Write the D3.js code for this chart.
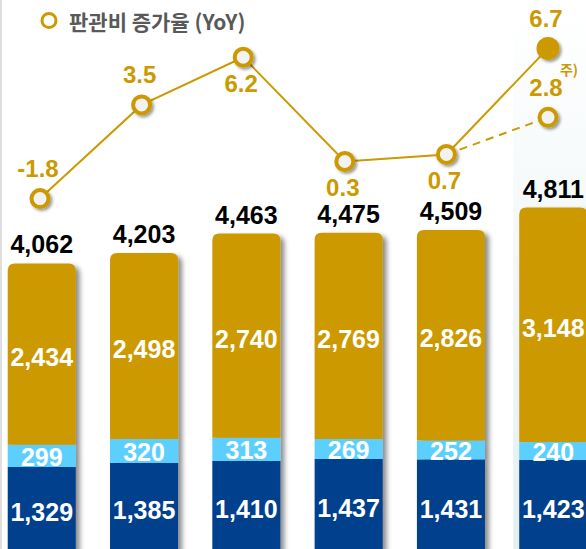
<!DOCTYPE html>
<html>
<head>
<meta charset="utf-8">
<script src="https://cdn.jsdelivr.net/npm/d3@7"></script>
<style>
  body { margin: 0; background: #fff; }
  svg { display: block; }
</style>
</head>
<body>
<svg id="svg"></svg>
<script>
let width = 586, height = 549;

// 데이터 (단위: 억원 / %)
let periods = ["p1", "p2", "p3", "p4", "p5", "p6"];
let navyVals = [1329, 1385, 1410, 1437, 1431, 1423];
let skyVals = [299, 320, 313, 269, 252, 240];
let goldVals = [2434, 2498, 2740, 2769, 2826, 3148];
let totals = [4062, 4203, 4463, 4475, 4509, 4811];
let yoy = [-1.8, 3.5, 6.2, 0.3, 0.7, 6.7];
let yoyAdj = 2.8; // 주) 조정 수치
let yoyLabelSide = ["up", "up", "down", "down", "down", "up"];
let legendText = "판관비 증가율 (YoY)";

let gold = "#CC9900", sky = "#5BCFFF", navy = "#003F8C";

let svg = d3.select("#svg").attr("width", width).attr("height", height);
let defs = svg.append("defs");

let barShadow = defs.append("filter").attr("id", "barShadow")
    .attr("x", "-20%").attr("y", "-20%").attr("width", "150%").attr("height", "150%");
barShadow.append("feDropShadow")
    .attr("dx", 4).attr("dy", 3).attr("stdDeviation", 2.5)
    .attr("flood-color", "#000").attr("flood-opacity", 0.45);

let dotShadow = defs.append("filter").attr("id", "dotShadow")
    .attr("x", "-50%").attr("y", "-50%").attr("width", "200%").attr("height", "200%");
dotShadow.append("feDropShadow")
    .attr("dx", 2).attr("dy", 2).attr("stdDeviation", 1.5)
    .attr("flood-color", "#000").attr("flood-opacity", 0.4);

let panelGrad = defs.append("linearGradient").attr("id", "panelGrad")
    .attr("x1", 0).attr("y1", 0).attr("x2", 0).attr("y2", 1);
panelGrad.append("stop").attr("offset", "0%").attr("stop-color", "#ffffff");
panelGrad.append("stop").attr("offset", "100%").attr("stop-color", "#e4eff2");

// scales
let xScale = d3.scaleBand().domain(periods).range([-9.4, 604.4])
    .paddingInner(0.335).paddingOuter(0.1675);
let yScale = d3.scaleLinear().domain([0, 4811]).range([566, 207.6]);
let xLine = d3.scalePoint().domain(periods).range([40, 548]);
let yLine = d3.scaleLinear().domain([-1.8, 6.7]).range([198.6, 48.4]);

let fmtPct = v => d3.format(".1f")(v).replace("\u2212", "-");

// 마지막 기간 강조 배경
svg.append("rect")
    .attr("x", xScale(periods[5]) - 6).attr("y", 0)
    .attr("width", width - xScale(periods[5]) + 6).attr("height", height)
    .attr("fill", "url(#panelGrad)");

// 왼쪽 경계선
svg.append("line")
    .attr("x1", 1).attr("x2", 1).attr("y1", 0).attr("y2", height)
    .attr("stroke", "#d4d4d4").attr("stroke-width", 1.5);

let bars = periods.map((p, i) => ({
    p: p, navy: navyVals[i], sky: skyVals[i], gold: goldVals[i], total: totals[i]
}));

let bw = xScale.bandwidth(), r = 7;

let barG = svg.append("g").selectAll("g")
    .data(bars)
    .join("g")
    .attr("filter", "url(#barShadow)");

barG.append("rect")
    .attr("x", d => xScale(d.p)).attr("width", bw)
    .attr("y", d => yScale(d.navy))
    .attr("height", d => yScale(0) - yScale(d.navy))
    .attr("fill", navy);

barG.append("rect")
    .attr("x", d => xScale(d.p)).attr("width", bw)
    .attr("y", d => yScale(d.navy + d.sky))
    .attr("height", d => yScale(d.navy) - yScale(d.navy + d.sky))
    .attr("fill", sky);

barG.append("path")
    .attr("fill", gold)
    .attr("d", d => {
        let x0 = xScale(d.p), x1 = x0 + bw;
        let yb = yScale(d.navy + d.sky), yt = yScale(d.navy + d.sky + d.gold);
        return `M${x0},${yb}V${yt + r}Q${x0},${yt} ${x0 + r},${yt}H${x1 - r}Q${x1},${yt} ${x1},${yt + r}V${yb}Z`;
    });

let labelFont = "'Liberation Sans', Arial, sans-serif";

let labels = svg.append("g")
    .attr("font-family", labelFont).attr("font-weight", "bold")
    .attr("font-size", 25).attr("text-anchor", "middle");

// 세그먼트 라벨
bars.forEach(d => {
    let cx = xScale(d.p) + bw / 2;
    labels.append("text").attr("x", cx).attr("y", (yScale(d.navy) + yScale(0)) / 2 - 4)
        .attr("dominant-baseline", "central").attr("fill", "#fff")
        .text(d3.format(",")(d.navy));
    labels.append("text").attr("x", cx).attr("y", (yScale(d.navy) + yScale(d.navy + d.sky)) / 2 + 1)
        .attr("dominant-baseline", "central").attr("fill", "#fff")
        .text(d3.format(",")(d.sky));
    labels.append("text").attr("x", cx).attr("y", (yScale(d.navy + d.sky) + yScale(d.total)) / 2 + 3)
        .attr("dominant-baseline", "central").attr("fill", "#fff")
        .text(d3.format(",")(d.gold));
    labels.append("text").attr("x", cx).attr("y", yScale(d.total) - 10)
        .attr("fill", "#000")
        .text(d3.format(",")(d.total));
});

// 증가율 라인
let pts = periods.map((p, i) => ({ p: p, v: yoy[i], side: yoyLabelSide[i] }));
let adjPt = { p: periods[5], v: yoyAdj, side: "up" };

let lineG = svg.append("g");
lineG.append("path")
    .datum(pts)
    .attr("fill", "none").attr("stroke", gold).attr("stroke-width", 2)
    .attr("d", d3.line().x(d => xLine(d.p)).y(d => yLine(d.v)));
lineG.append("path")
    .datum([pts[4], adjPt])
    .attr("fill", "none").attr("stroke", gold).attr("stroke-width", 2)
    .attr("stroke-dasharray", "8,6")
    .attr("d", d3.line().x(d => xLine(d.p)).y(d => yLine(d.v)));

let openPts = pts.slice(0, 5).concat([adjPt]);
lineG.selectAll("circle.open")
    .data(openPts)
    .join("circle")
    .attr("class", "open")
    .attr("cx", d => xLine(d.p)).attr("cy", d => yLine(d.v))
    .attr("r", 8.5)
    .attr("fill", "#f2f2f2").attr("stroke", gold).attr("stroke-width", 4)
    .attr("filter", "url(#dotShadow)");
lineG.append("circle")
    .attr("cx", xLine(pts[5].p)).attr("cy", yLine(pts[5].v))
    .attr("r", 11.5).attr("fill", gold)
    .attr("filter", "url(#dotShadow)");

lineG.selectAll("text.yoy")
    .data(pts.concat([adjPt]))
    .join("text")
    .attr("class", "yoy")
    .attr("x", d => xLine(d.p) - 2)
    .attr("y", d => yLine(d.v) + (d.side === "up" ? -30 : 26))
    .attr("dominant-baseline", "central")
    .attr("text-anchor", "middle")
    .attr("font-family", labelFont).attr("font-weight", "bold").attr("font-size", 24)
    .attr("fill", gold)
    .text(d => fmtPct(d.v));

lineG.append("text")
    .attr("x", xLine(adjPt.p) + 21).attr("y", yLine(adjPt.v) - 48)
    .attr("dominant-baseline", "central").attr("text-anchor", "middle")
    .attr("font-family", "'Noto Sans CJK KR', sans-serif").attr("font-weight", "bold")
    .attr("font-size", 14).attr("fill", gold)
    .text("주)");

// 범례
let legend = svg.append("g");
legend.append("circle")
    .attr("cx", 49).attr("cy", 20.5).attr("r", 7)
    .attr("fill", "#fff").attr("stroke", gold).attr("stroke-width", 3);
legend.append("text")
    .attr("x", 69).attr("y", 21)
    .attr("dominant-baseline", "central")
    .attr("font-family", "'Noto Sans CJK KR', sans-serif").attr("font-weight", "bold")
    .attr("font-size", 21).attr("fill", "#595959")
    .text(legendText);
</script>
</body>
</html>
